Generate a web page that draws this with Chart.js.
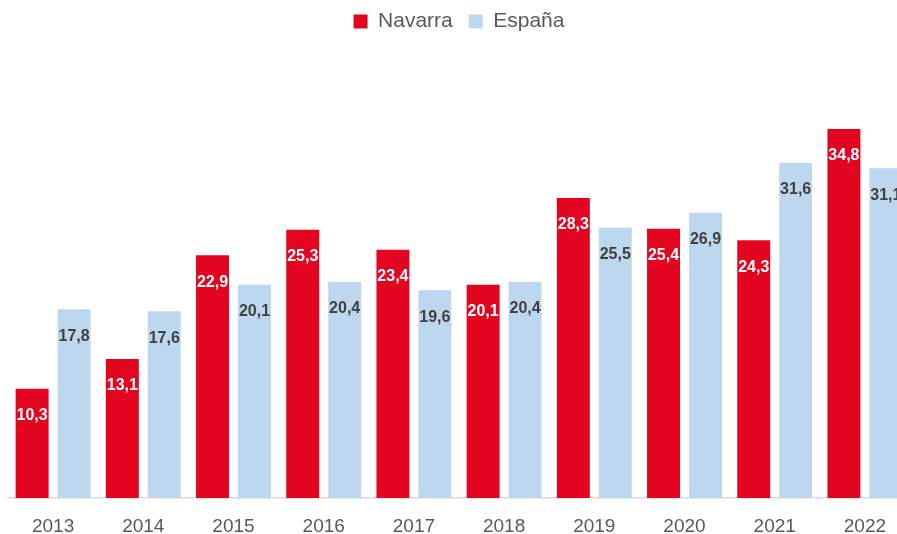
<!DOCTYPE html>
<html>
<head>
<meta charset="utf-8">
<script src="https://cdn.jsdelivr.net/npm/chart.js@4"></script>
<style>
  body { margin: 0; overflow: hidden; background: #fff; }
  #wrap { width: 897px; height: 534px; overflow: hidden; }
  #barChart { display: block; margin-top: -5px; }
</style>
</head>
<body>
<div id="wrap"><canvas id="barChart" width="912" height="539"></canvas></div>
<script>
const years = ["2013", "2014", "2015", "2016", "2017", "2018", "2019", "2020", "2021", "2022"];
const navarra = [10.3, 13.1, 22.9, 25.3, 23.4, 20.1, 28.3, 25.4, 24.3, 34.8];
const espana = [17.8, 17.6, 20.1, 20.4, 19.6, 20.4, 25.5, 26.9, 31.6, 31.1];

/* value labels just under the top of each bar */
const barLabels = {
    id: "barLabels",
    afterDatasetsDraw(chart) {
        const ctx = chart.ctx;
        ctx.save();
        ctx.font = "bold 16px 'Liberation Sans', Arial, sans-serif";
        ctx.textAlign = "center";
        ctx.textBaseline = "middle";
        chart.data.datasets.forEach((ds, i) => {
            ctx.fillStyle = i === 0 ? "#ffffff" : "#404040";
            chart.getDatasetMeta(i).data.forEach((bar, j) => {
                ctx.fillText(ds.data[j].toFixed(1).replace(".", ","), bar.x, bar.y + 27);
            });
        });
        ctx.restore();
    }
};

new Chart(document.getElementById("barChart"), {
    type: "bar",
    data: {
        labels: years,
        datasets: [
            { label: "Navarra", data: navarra, backgroundColor: "#E30420" },
            { label: "España", data: espana, backgroundColor: "#BDD7EE" }
        ]
    },
    options: {
        responsive: false,
        animation: false,
        categoryPercentage: 0.93,
        barPercentage: 0.786,
        layout: { padding: { left: 8, right: 2, top: 0, bottom: 0 } },
        plugins: {
            legend: {
                position: "top",
                labels: {
                    boxWidth: 14,
                    boxHeight: 14,
                    padding: 16,
                    color: "#595959",
                    font: { family: "'Liberation Sans', Arial, sans-serif", size: 21 }
                }
            },
            tooltip: { enabled: false }
        },
        scales: {
            x: {
                grid: { display: false, drawTicks: false },
                border: { display: true, color: "#D9D9D9", width: 1.5 },
                ticks: {
                    padding: 17,
                    color: "#595959",
                    font: { family: "'Liberation Sans', Arial, sans-serif", size: 19 }
                },
                afterFit(scale) { scale.height = 36; }
            },
            y: {
                display: false,
                min: 0,
                max: 43
            }
        }
    },
    plugins: [barLabels]
});
</script>
</body>
</html>
